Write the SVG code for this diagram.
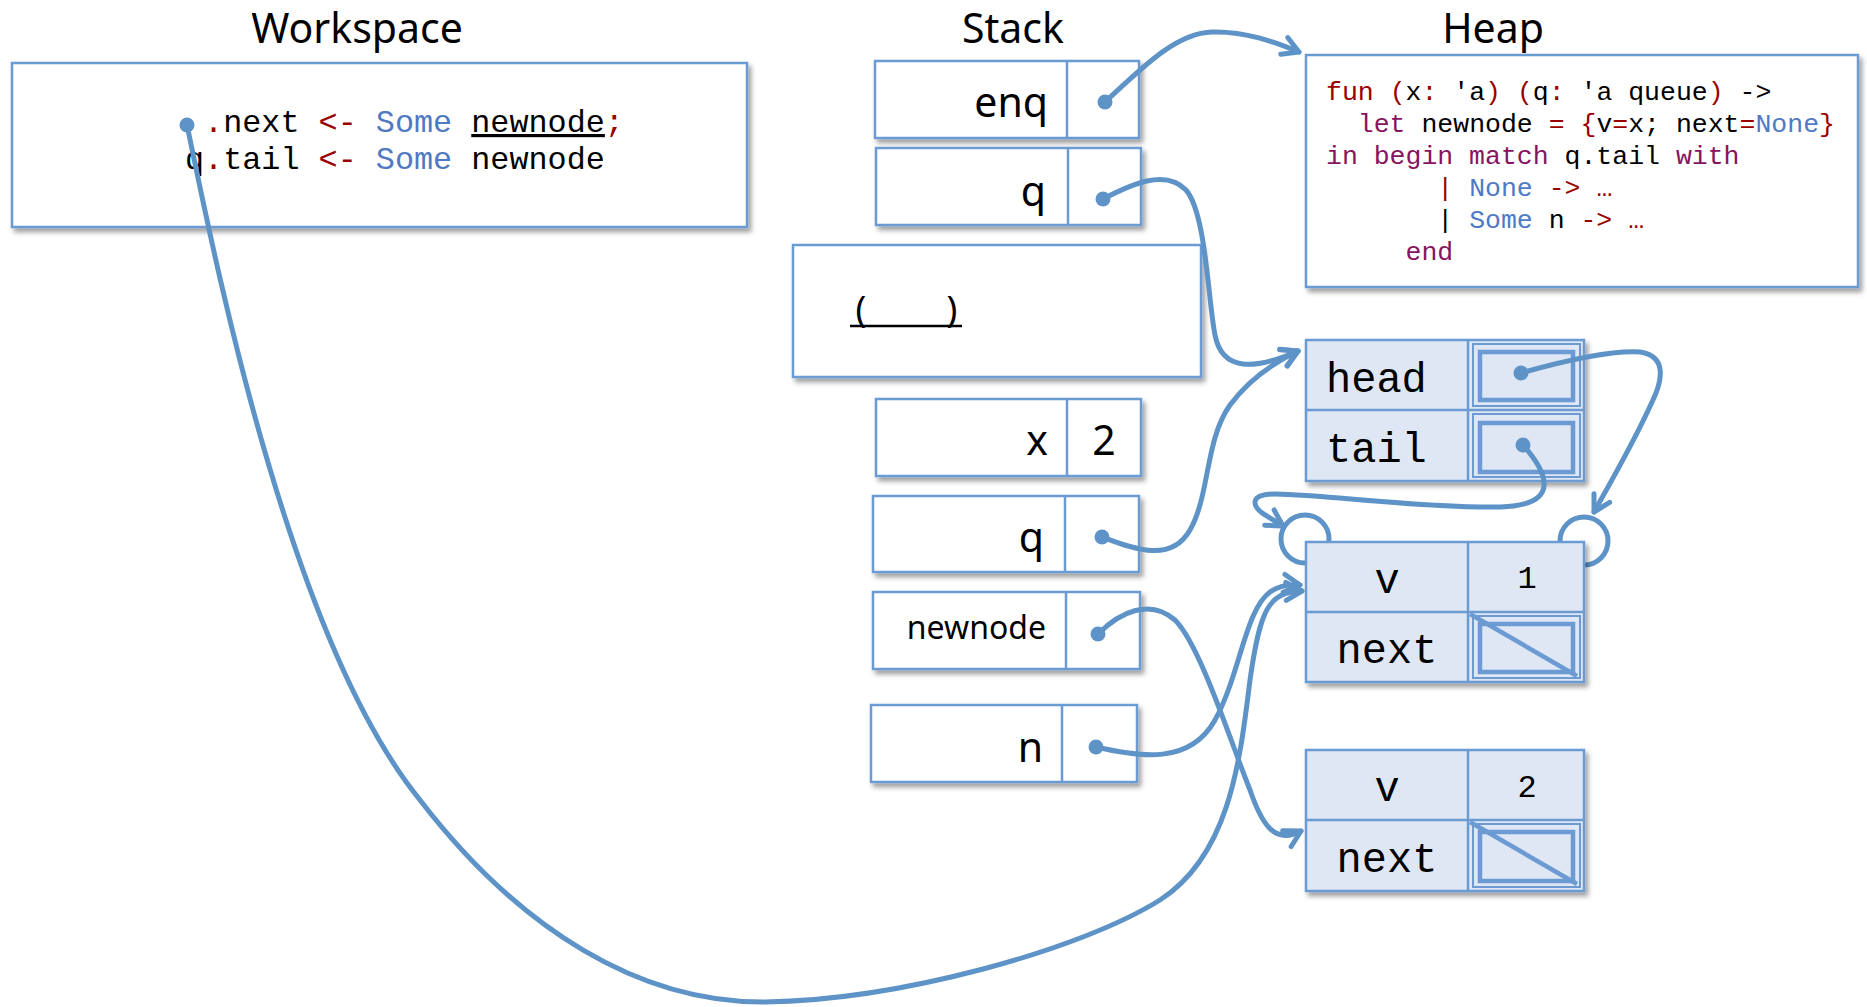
<svg xmlns="http://www.w3.org/2000/svg" width="1867" height="1007" viewBox="0 0 1867 1007">
<defs>
<filter id="sh" x="-10%" y="-10%" width="125%" height="140%">
<feDropShadow dx="3" dy="4" stdDeviation="2.5" flood-color="#000" flood-opacity="0.38"/>
</filter>
<marker id="ah" viewBox="-20 -14 24 28" refX="0" refY="0" markerWidth="24" markerHeight="28" markerUnits="userSpaceOnUse" orient="auto">
<path d="M-16,-9 L0,0 L-16,9" fill="none" stroke="#5E93C8" stroke-width="5" stroke-linecap="round" stroke-linejoin="round"/>
</marker>
</defs>
<style>
.title{font-family:"Noto Sans","Open Sans",sans-serif;font-size:41px;fill:#000;text-anchor:middle}
.box{fill:#fff;stroke:#6B9BD2;stroke-width:2.5}
.hbox{fill:#DEE7F3;stroke:#6B9BD2;stroke-width:2.5}
.div{stroke:#6B9BD2;stroke-width:2.5;fill:none}
.in1{fill:none;stroke:#6B9BD2;stroke-width:2}
.in2{fill:none;stroke:#6B9BD2;stroke-width:4.5}
.lbl{font-family:"Noto Sans","Open Sans",sans-serif;font-size:41px;fill:#000;text-anchor:end}
.lbls{font-family:"Noto Sans","Open Sans",sans-serif;font-size:32px;fill:#000;text-anchor:end}
.val{font-family:"Noto Sans","Open Sans",sans-serif;font-size:41px;fill:#000;text-anchor:middle}
.par{font-family:"Noto Sans","Open Sans",sans-serif;font-size:36px;fill:#000;text-anchor:middle}
.ws{font-family:"Liberation Mono","DejaVu Sans Mono",monospace;font-size:31.8px;fill:#000}
.code{font-family:"Liberation Mono","DejaVu Sans Mono",monospace;font-size:26.5px;fill:#000}
.hl{font-family:"Liberation Mono","DejaVu Sans Mono",monospace;font-size:42px;fill:#000}
.hc{font-family:"Liberation Mono","DejaVu Sans Mono",monospace;font-size:42px;fill:#000;text-anchor:middle}
.hv{font-family:"Liberation Mono","DejaVu Sans Mono",monospace;font-size:32px;fill:#000;text-anchor:middle}
.r{fill:#990000}
.b{fill:#5079C4}
.p{fill:#86145F}
.conn{fill:none;stroke:#5E93C8;stroke-width:5;stroke-linecap:round}
.dot{fill:#5E93C8}
.ring{fill:none;stroke:#5E93C8;stroke-width:5}
</style>

<text class="title" x="357" y="43">Workspace</text>
<text class="title" x="1013" y="43">Stack</text>
<text class="title" x="1493" y="43">Heap</text>

<g id="workspace">
<rect class="box" x="12" y="63" width="735" height="164" filter="url(#sh)"/>
<text class="ws" x="185" y="132" xml:space="preserve"> <tspan class="r">.</tspan>next <tspan class="r">&lt;-</tspan> <tspan class="b">Some</tspan> <tspan text-decoration="underline">newnode</tspan><tspan class="r">;</tspan></text>
<text class="ws" x="185" y="169" xml:space="preserve">q<tspan class="r">.</tspan>tail <tspan class="r">&lt;-</tspan> <tspan class="b">Some</tspan> newnode</text>
</g>

<g id="stack-enq">
<rect class="box" x="875" y="61" width="264" height="77" filter="url(#sh)"/>
<line class="div" x1="1067" y1="61" x2="1067" y2="138"/>
<text class="lbl" x="1048" y="117">enq</text>
</g>
<g id="stack-q1">
<rect class="box" x="876" y="148" width="265" height="77" filter="url(#sh)"/>
<line class="div" x1="1068" y1="148" x2="1068" y2="225"/>
<text class="lbl" x="1046" y="206">q</text>
</g>
<g id="stack-hole">
<rect class="box" x="793" y="245" width="408" height="132" filter="url(#sh)"/>
<text class="par" x="861" y="322">(</text>
<text class="par" x="952" y="322">)</text>
<line x1="850" y1="326" x2="962" y2="326" stroke="#000" stroke-width="2.5"/>
</g>
<g id="stack-x">
<rect class="box" x="876" y="399" width="265" height="77" filter="url(#sh)"/>
<line class="div" x1="1067" y1="399" x2="1067" y2="476"/>
<text class="lbl" x="1048" y="455">x</text>
<text class="val" x="1104" y="455">2</text>
</g>
<g id="stack-q2">
<rect class="box" x="873" y="496" width="266" height="76" filter="url(#sh)"/>
<line class="div" x1="1065" y1="496" x2="1065" y2="572"/>
<text class="lbl" x="1044" y="552">q</text>
</g>
<g id="stack-newnode">
<rect class="box" x="873" y="592" width="267" height="77" filter="url(#sh)"/>
<line class="div" x1="1066" y1="592" x2="1066" y2="669"/>
<text class="lbls" x="1046" y="639">newnode</text>
</g>
<g id="stack-n">
<rect class="box" x="871" y="705" width="266" height="77" filter="url(#sh)"/>
<line class="div" x1="1062" y1="705" x2="1062" y2="782"/>
<text class="lbl" x="1043" y="762">n</text>
</g>

<g id="heap-fun">
<rect class="box" x="1306" y="55" width="552" height="232" filter="url(#sh)"/>
<text class="code" x="1326" y="100" xml:space="preserve"><tspan class="r">fun</tspan> <tspan class="r">(</tspan>x<tspan class="r">:</tspan> 'a<tspan class="r">)</tspan> <tspan class="r">(</tspan>q<tspan class="r">:</tspan> 'a queue<tspan class="r">)</tspan> -&gt;</text>
<text class="code" x="1326" y="132" xml:space="preserve">  <tspan class="p">let</tspan> newnode <tspan class="r">=</tspan> <tspan class="r">{</tspan>v<tspan class="r">=</tspan>x; next<tspan class="r">=</tspan><tspan class="b">None</tspan><tspan class="r">}</tspan></text>
<text class="code" x="1326" y="164" xml:space="preserve"><tspan class="p">in begin match</tspan> q.tail <tspan class="p">with</tspan></text>
<text class="code" x="1326" y="196" xml:space="preserve">       <tspan class="r">|</tspan> <tspan class="b">None</tspan> <tspan class="r">-&gt;</tspan> <tspan class="r">…</tspan></text>
<text class="code" x="1326" y="228" xml:space="preserve">       | <tspan class="b">Some</tspan> n <tspan class="r">-&gt;</tspan> <tspan class="r">…</tspan></text>
<text class="code" x="1326" y="260" xml:space="preserve">     <tspan class="p">end</tspan></text>
</g>

<g id="heap-queue">
<rect class="hbox" x="1306" y="340" width="278" height="141" filter="url(#sh)"/>
<line class="div" x1="1468" y1="340" x2="1468" y2="481"/>
<line class="div" x1="1306" y1="410" x2="1584" y2="410"/>
<rect class="in1" x="1473" y="344" width="107" height="62"/>
<rect class="in2" x="1480" y="352" width="93" height="48"/>
<rect class="in1" x="1473" y="414" width="107" height="63"/>
<rect class="in2" x="1480" y="423" width="93" height="49"/>
<text class="hl" x="1326" y="392">head</text>
<text class="hl" x="1326" y="462">tail</text>
</g>

<g id="heap-node1">
<circle class="ring" cx="1305" cy="539" r="24"/>
<circle class="ring" cx="1584" cy="541" r="24"/>
<rect class="hbox" x="1306" y="542" width="278" height="140" filter="url(#sh)"/>
<line class="div" x1="1468" y1="542" x2="1468" y2="682"/>
<line class="div" x1="1306" y1="612" x2="1584" y2="612"/>
<rect class="in1" x="1473" y="616" width="107" height="62"/>
<rect class="in2" x="1480" y="624" width="93" height="48"/>
<line class="in2" x1="1470" y1="614" x2="1577" y2="676"/>
<text class="hc" x="1387" y="593">v</text>
<text class="hv" x="1527" y="588">1</text>
<text class="hc" x="1387" y="663">next</text>
</g>

<g id="heap-node2">
<rect class="hbox" x="1306" y="750" width="278" height="141" filter="url(#sh)"/>
<line class="div" x1="1468" y1="750" x2="1468" y2="891"/>
<line class="div" x1="1306" y1="820" x2="1584" y2="820"/>
<rect class="in1" x="1473" y="824" width="107" height="63"/>
<rect class="in2" x="1480" y="832" width="93" height="49"/>
<line class="in2" x1="1470" y1="822" x2="1577" y2="884"/>
<text class="hc" x="1387" y="801">v</text>
<text class="hv" x="1527" y="797">2</text>
<text class="hc" x="1387" y="872">next</text>
</g>

<g id="connectors">
<path class="conn" marker-end="url(#ah)" d="M1105,102 C1140,70 1175,33 1212,32 C1245,31 1275,42 1299,52"/>
<circle class="dot" cx="1105" cy="102" r="7.5"/>
<path class="conn" marker-end="url(#ah)" d="M1103,199 C1130,185 1165,168 1186,190 C1206,213 1208,300 1215,335 C1222,372 1255,370 1298,351"/>
<circle class="dot" cx="1103" cy="199" r="7.5"/>
<path class="conn" marker-end="url(#ah)" d="M1102,537 C1130,547 1170,565 1190,530 C1210,495 1205,440 1230,405 C1250,378 1275,362 1298,351"/>
<circle class="dot" cx="1102" cy="537" r="7.5"/>
<path class="conn" marker-end="url(#ah)" d="M1098,634 C1120,612 1150,598 1175,620 C1200,645 1230,740 1250,790 C1262,825 1275,845 1301,831"/>
<circle class="dot" cx="1098" cy="634" r="7.5"/>
<path class="conn" marker-end="url(#ah)" d="M1096,747 C1140,757 1190,765 1215,720 C1240,675 1245,610 1270,592 C1280,585 1290,584 1300,585"/>
<circle class="dot" cx="1096" cy="747" r="7.5"/>
<path class="conn" marker-end="url(#ah)" d="M187,125 C215,260 290,640 420,800 C520,930 640,1003 765,1002 C900,1000 1080,950 1160,900 C1230,855 1240,760 1250,680 C1260,610 1268,592 1302,591"/>
<circle class="dot" cx="187" cy="125" r="7.5"/>
<path class="conn" marker-end="url(#ah)" d="M1521,373 C1560,362 1610,350 1640,352 C1668,356 1662,382 1652,402 C1635,440 1612,480 1594,512"/>
<circle class="dot" cx="1521" cy="373" r="7.5"/>
<path class="conn" marker-end="url(#ah)" d="M1523,445 C1545,470 1565,505 1500,507 C1420,508 1330,495 1275,494 C1250,494 1252,505 1262,513 L1283,526"/>
<circle class="dot" cx="1523" cy="445" r="7.5"/>
</g>
</svg>
